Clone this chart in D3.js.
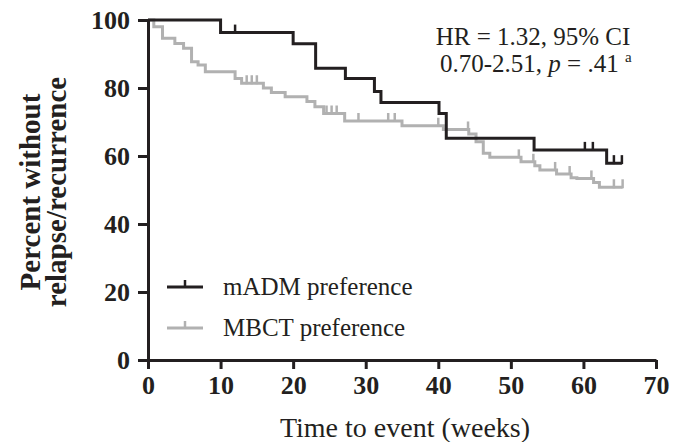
<!DOCTYPE html>
<html><head><meta charset="utf-8">
<script src="https://cdn.jsdelivr.net/npm/d3@7"></script>
<style>
body{margin:0;background:#fff}
text{font-family:"Liberation Serif","Times New Roman",serif;fill:#231f20}
</style>
</head><body>
<svg id="c" width="684" height="442"></svg>
<script>
// ---- data ----
const xTicks = [0,10,20,30,40,50,60,70];
const yTicks = [0,20,40,60,80,100];
const seriesNames = ["mADM preference","MBCT preference"];
// mADM preference: event times (weeks) and survival (%) after each step
const madmTimes = [0,10.0,20.0,23.1,27.2,31.2,32.1,40.1,41.1,53.2,63.2];
const madmSurv  = [100,96.3,93.0,85.8,82.8,79.0,75.7,72.5,65.2,61.8,57.9];
const madmEnd = 65.3;
const madmCensor = [12.0,60.2,61.3,64.2,65.3];
// MBCT preference
const mbctTimes = [0,0.8,2.0,3.7,4.9,6.0,6.9,7.9,12.0,12.9,15.9,17.0,18.9,21.9,23.0,24.2,27.1,35.0,40.7,44.2,45.2,46.2,47.1,51.4,53.3,54.0,56.3,58.3,59.1,61.4,62.2];
const mbctSurv  = [100,98.0,94.6,93.1,91.7,87.7,86.8,84.8,82.8,81.4,80.0,78.7,77.4,76.0,74.5,72.5,70.3,68.9,67.8,66.5,64.2,60.8,59.6,58.3,57.1,55.9,54.7,53.6,53.4,52.2,50.8];
const mbctEnd = 65.4;
const mbctCensor = [13.6,14.3,15.0,24.6,25.3,26.0,29.0,33.1,34.0,40.0,44.1,51.1,53.1,56.1,58.1,61.1,64.2,65.4];

const svg = d3.select("#c");
const x = d3.scaleLinear().domain([0,70]).range([148,656]);
const y = d3.scaleLinear().domain([0,100]).range([360,20]);

function survAt(times, surv, t){
  let v = surv[0];
  for(let i=0;i<times.length;i++){ if(times[i] <= t) v = surv[i]; }
  return v;
}
const line = d3.line().x(d=>x(d[0])).y(d=>y(d[1])).curve(d3.curveStepAfter);

function drawSeries(times, surv, end, censor, color){
  const pts = times.map((t,i)=>[t,surv[i]]);
  pts.push([end, surv[surv.length-1]]);
  svg.append("path").attr("d", line(pts)).attr("fill","none")
    .attr("stroke", color).attr("stroke-width",3).attr("stroke-linejoin","miter");
  svg.append("g").selectAll("line").data(censor).join("line")
    .attr("x1", d=>x(d)).attr("x2", d=>x(d))
    .attr("y1", d=>y(survAt(times,surv,d))+1)
    .attr("y2", d=>y(survAt(times,surv,d))-8)
    .attr("stroke", color).attr("stroke-width",2.5);
}
drawSeries(mbctTimes, mbctSurv, mbctEnd, mbctCensor, "#b1b1b1");
drawSeries(madmTimes, madmSurv, madmEnd, madmCensor, "#231f20");

// axes
const yAxis = svg.append("g").attr("transform","translate(148,0)")
  .call(d3.axisLeft(y).tickValues(yTicks).tickSize(10).tickSizeOuter(0).tickPadding(8));
const xAxis = svg.append("g").attr("transform","translate(0,360)")
  .call(d3.axisBottom(x).tickValues(xTicks).tickSize(9).tickSizeOuter(0).tickPadding(3));
[yAxis,xAxis].forEach(a=>{
  a.select(".domain").attr("stroke","#231f20").attr("stroke-width",3);
  a.selectAll(".tick line").attr("stroke","#231f20").attr("stroke-width",3);
  a.selectAll(".tick text").attr("font-family","'Liberation Serif',serif")
    .attr("font-weight","bold").attr("font-size",26).attr("fill","#231f20");
});
xAxis.selectAll(".tick text").attr("dy","0.85em");

// axis titles
svg.append("text").attr("x",405).attr("y",437).attr("text-anchor","middle")
  .attr("font-size",28).text("Time to event (weeks)");
const yt = svg.append("g").attr("transform","translate(0,192) rotate(-90)");
yt.append("text").attr("x",0).attr("y",40).attr("text-anchor","middle")
  .attr("font-size",29).attr("font-weight","bold").text("Percent without");
yt.append("text").attr("x",0).attr("y",66).attr("text-anchor","middle")
  .attr("font-size",29).attr("font-weight","bold").text("relapse/recurrence");

// annotation
svg.append("text").attr("x",533).attr("y",45).attr("text-anchor","middle")
  .attr("font-size",25).text("HR = 1.32, 95% CI");
const t2 = svg.append("text").attr("x",440).attr("y",72).attr("font-size",25);
t2.append("tspan").text("0.70-2.51, ");
t2.append("tspan").attr("font-style","italic").text("p");
t2.append("tspan").text(" = .41 ");
t2.append("tspan").attr("font-size",15).attr("dy",-10).text("a");

// legend
const legColors = ["#231f20","#b1b1b1"];
const legY = [287,328];
seriesNames.forEach((n,i)=>{
  svg.append("line").attr("x1",167).attr("x2",203).attr("y1",legY[i]).attr("y2",legY[i])
    .attr("stroke",legColors[i]).attr("stroke-width",3);
  svg.append("line").attr("x1",185).attr("x2",185).attr("y1",legY[i]).attr("y2",legY[i]-7)
    .attr("stroke",legColors[i]).attr("stroke-width",2.5);
  svg.append("text").attr("x",223).attr("y",legY[i]+8).attr("font-size",25).text(n);
});
</script>
</body></html>
